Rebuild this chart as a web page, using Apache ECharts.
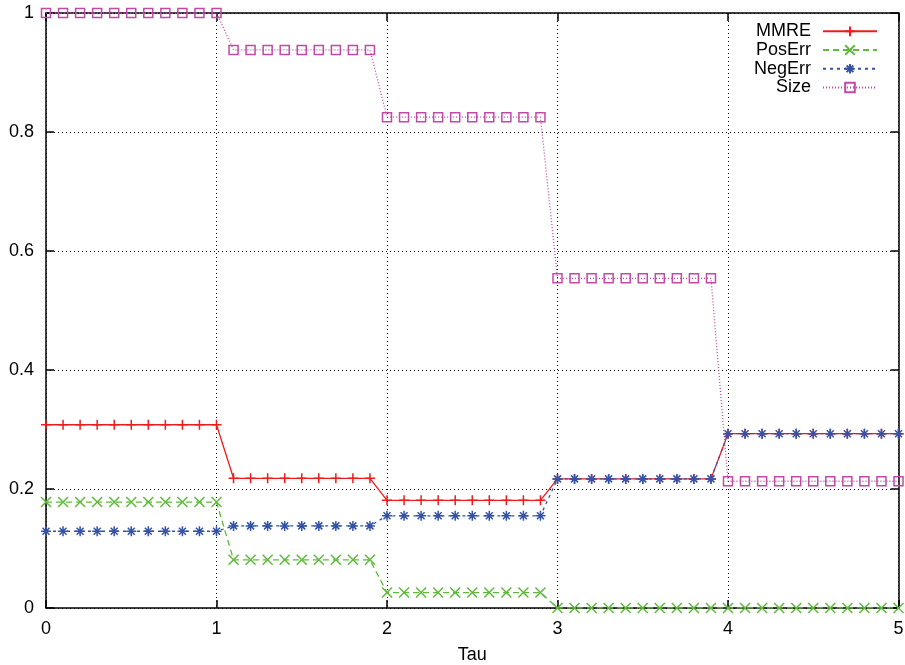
<!DOCTYPE html>
<html>
<head>
<meta charset="utf-8">
<script src="https://cdn.jsdelivr.net/npm/echarts@6/dist/echarts.min.js"></script>
<style>
html,body{margin:0;padding:0;background:#fff;}
#chart{width:905px;height:665px;}
</style>
</head>
<body>
<div id="chart"></div>
<script>
const tau = [0.0,0.1,0.2,0.3,0.4,0.5,0.6,0.7,0.8,0.9,1.0,
             1.1,1.2,1.3,1.4,1.5,1.6,1.7,1.8,1.9,
             2.0,2.1,2.2,2.3,2.4,2.5,2.6,2.7,2.8,2.9,
             3.0,3.1,3.2,3.3,3.4,3.5,3.6,3.7,3.8,3.9,
             4.0,4.1,4.2,4.3,4.4,4.5,4.6,4.7,4.8,4.9,5.0];
const mmre = [0.308,0.308,0.308,0.308,0.308,0.308,0.308,0.308,0.308,0.308,0.308,
              0.218,0.218,0.218,0.218,0.218,0.218,0.218,0.218,0.218,
              0.181,0.181,0.181,0.181,0.181,0.181,0.181,0.181,0.181,0.181,
              0.217,0.217,0.217,0.217,0.217,0.217,0.217,0.217,0.217,0.217,
              0.293,0.293,0.293,0.293,0.293,0.293,0.293,0.293,0.293,0.293,0.293];
const posErr = [0.178,0.178,0.178,0.178,0.178,0.178,0.178,0.178,0.178,0.178,0.178,
                0.081,0.081,0.081,0.081,0.081,0.081,0.081,0.081,0.081,
                0.026,0.026,0.026,0.026,0.026,0.026,0.026,0.026,0.026,0.026,
                0,0,0,0,0,0,0,0,0,0,
                0,0,0,0,0,0,0,0,0,0,0];
const negErr = [0.129,0.129,0.129,0.129,0.129,0.129,0.129,0.129,0.129,0.129,0.129,
                0.138,0.138,0.138,0.138,0.138,0.138,0.138,0.138,0.138,
                0.155,0.155,0.155,0.155,0.155,0.155,0.155,0.155,0.155,0.155,
                0.217,0.217,0.217,0.217,0.217,0.217,0.217,0.217,0.217,0.217,
                0.293,0.293,0.293,0.293,0.293,0.293,0.293,0.293,0.293,0.293,0.293];
const size = [1,1,1,1,1,1,1,1,1,1,1,
              0.938,0.938,0.938,0.938,0.938,0.938,0.938,0.938,0.938,
              0.825,0.825,0.825,0.825,0.825,0.825,0.825,0.825,0.825,0.825,
              0.554,0.554,0.554,0.554,0.554,0.554,0.554,0.554,0.554,0.554,
              0.213,0.213,0.213,0.213,0.213,0.213,0.213,0.213,0.213,0.213,0.213];
const seriesNames = ['MMRE','PosErr','NegErr','Size'];
const xTicks = [0,1,2,3,4,5];
const yTicks = [0,0.2,0.4,0.6,0.8,1];

const FONT = 'Liberation Sans, Arial, Helvetica, sans-serif';
const colors = ['#ee1c1c','#5fba3c','#3453a8','#c04aa8'];
const symbols = [
  'path://M5,0L5,10M0,5L10,5',
  'path://M0,0L10,10M0,10L10,0',
  'path://M5,0L5,10M0,5L10,5M1.5,1.5L8.5,8.5M1.5,8.5L8.5,1.5',
  'path://M0,0L10,0L10,10L0,10Z'
];
const lineTypes = ['solid',[6,4],[3,4],[1,2]];
const dataSets = [mmre, posErr, negErr, size];

function pairs(ys){ return tau.map((t,i)=>[t, ys[i]]); }

const axisCommonX = {
  type:'value', min:xTicks[0], max:xTicks[xTicks.length-1], interval:1,
  axisLine:{show:true,onZero:false,lineStyle:{color:'#000',width:1.5}},
  axisTick:{show:true,inside:true,length:8,lineStyle:{color:'#000',width:1.5}}
};
const axisCommonY = {
  type:'value', min:yTicks[0], max:yTicks[yTicks.length-1], interval:0.2,
  axisLine:{show:true,onZero:false,lineStyle:{color:'#000',width:1.5}},
  axisTick:{show:true,inside:true,length:8,lineStyle:{color:'#000',width:1.5}}
};

const chart = echarts.init(document.getElementById('chart'), null, {renderer:'canvas'});
chart.setOption({
  animation:false,
  backgroundColor:'#fff',
  grid:{left:46,right:6.5,top:13,bottom:57,containLabel:false,outerBoundsMode:'none'},
  legend:{
    orient:'vertical', right:22, top:17, align:'right',
    itemWidth:54, itemHeight:12, itemGap:0,
    data:seriesNames,
    textStyle:{fontFamily:FONT,fontSize:18,color:'#000',width:72,align:'right',lineHeight:18.7,padding:[0,7,0,0]},
    selectedMode:false
  },
  xAxis:[
    Object.assign({}, axisCommonX, {
      position:'bottom',
      name:'Tau', nameLocation:'middle', nameGap:38,
      nameTextStyle:{fontFamily:FONT,fontSize:18,color:'#000'},
      axisLabel:{fontFamily:FONT,fontSize:18,color:'#000',margin:12},
      splitLine:{show:true,lineStyle:{color:'#000',type:[1,3],width:1}}
    }),
    Object.assign({}, axisCommonX, {
      position:'top', axisLabel:{show:false}, splitLine:{show:false}
    })
  ],
  yAxis:[
    Object.assign({}, axisCommonY, {
      position:'left',
      axisLabel:{fontFamily:FONT,fontSize:18,color:'#000',margin:12},
      splitLine:{show:true,lineStyle:{color:'#000',type:[1,3],width:1}}
    }),
    Object.assign({}, axisCommonY, {
      position:'right', axisLabel:{show:false}, splitLine:{show:false}
    })
  ],
  series: seriesNames.map((name,i)=>({
    name:name, type:'line', xAxisIndex:0, yAxisIndex:0,
    data:pairs(dataSets[i]),
    symbol:symbols[i], symbolSize:i===3?9:10, showAllSymbol:true,
    lineStyle:{color:colors[i],width:1.3,type:lineTypes[i]},
    itemStyle:{color:i===3?'rgba(0,0,0,0)':colors[i],borderColor:colors[i],borderWidth:1.5},
    emphasis:{disabled:true},
    z:2+i
  }))
});
</script>
</body>
</html>
